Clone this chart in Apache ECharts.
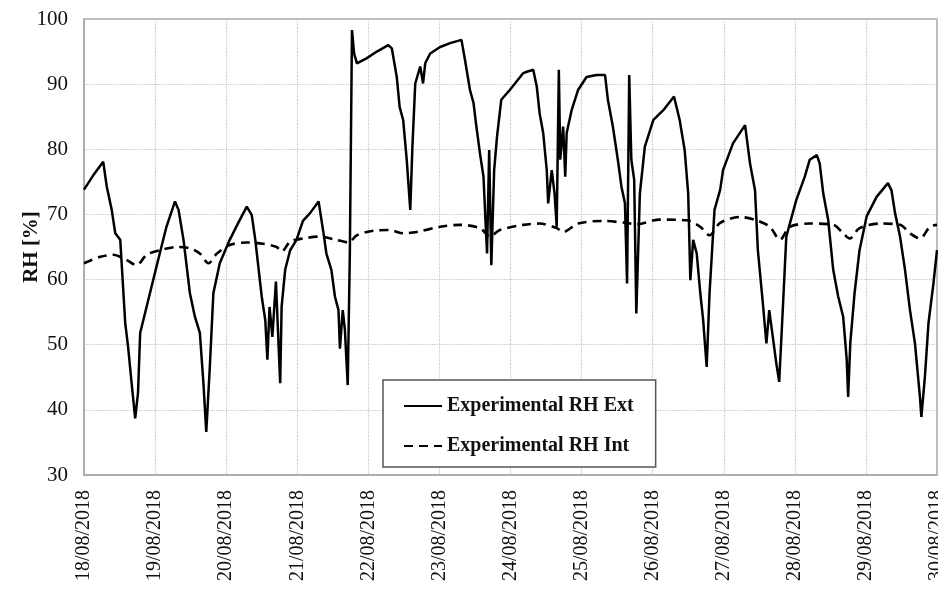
<!DOCTYPE html>
<html>
<head>
<meta charset="utf-8">
<script src="https://cdn.jsdelivr.net/npm/echarts@6/dist/echarts.min.js"></script>
<style>
html,body{margin:0;padding:0;background:#fff;}
#chart{width:938px;height:590px;}
</style>
</head>
<body>
<div id="chart"></div>
<script>
// Tick labels (x axis: one per day starting 18/08/2018)
const dayLabels = ["18/08/2018","19/08/2018","20/08/2018","21/08/2018","22/08/2018","23/08/2018",
  "24/08/2018","25/08/2018","26/08/2018","27/08/2018","28/08/2018","29/08/2018","30/08/2018"];
const seriesNames = ["Experimental RH Ext", "Experimental RH Int"];

// Exterior RH: time in days since 18/08/2018 00:00, value in %
const extTime = [0.00,0.13,0.27,0.32,0.39,0.44,0.51,0.58,0.62,0.67,0.72,0.76,0.79,0.88,1.02,1.16,1.28,1.33,1.40,1.49,
  1.56,1.63,1.68,1.72,1.77,1.82,1.91,2.05,2.17,2.29,2.36,2.41,2.50,2.55,2.58,2.61,2.65,2.70,2.76,2.78,
  2.83,2.90,2.99,3.08,3.18,3.30,3.37,3.41,3.48,3.53,3.58,3.60,3.64,3.67,3.71,3.74,3.77,3.80,3.84,3.98,
  4.12,4.28,4.33,4.40,4.44,4.49,4.54,4.59,4.62,4.66,4.73,4.77,4.80,4.87,5.01,5.15,5.31,5.36,5.43,5.48,
  5.52,5.57,5.62,5.65,5.67,5.70,5.73,5.77,5.81,5.87,5.99,6.18,6.23,6.32,6.37,6.41,6.46,6.51,6.53,6.58,
  6.62,6.65,6.68,6.70,6.74,6.77,6.79,6.86,6.95,7.07,7.21,7.33,7.37,7.44,7.51,7.56,7.61,7.64,7.67,7.70,
  7.74,7.77,7.82,7.89,8.01,8.15,8.30,8.38,8.45,8.50,8.53,8.57,8.62,8.67,8.71,8.76,8.80,8.87,8.95,8.99,
  9.13,9.30,9.37,9.44,9.48,9.55,9.60,9.64,9.69,9.74,9.78,9.83,9.88,10.02,10.14,10.21,10.31,10.35,10.40,10.47,
  10.54,10.61,10.68,10.73,10.75,10.78,10.84,10.91,11.01,11.15,11.31,11.36,11.41,11.48,11.55,11.62,11.69,11.76,11.78,11.83,
  11.88,11.95,12.00];
const extRH = [73.8,76.0,78.1,74.3,70.7,67.1,66.1,53.3,49.7,44.1,38.7,42.6,51.8,55.8,62.0,68.1,72.0,70.7,66.1,57.9,
  54.3,51.8,44.1,36.6,46.6,57.9,62.5,66.1,68.7,71.2,69.9,66.1,57.4,53.8,47.7,55.8,51.2,59.7,44.1,55.8,
  61.5,64.5,66.1,69.0,70.2,72.0,67.1,64.0,61.5,57.4,55.3,49.4,55.3,52.3,43.8,64.1,98.3,94.7,93.2,94.0,
  95.0,96.0,95.5,91.1,86.5,84.5,78.4,70.7,80.4,90.1,92.7,90.1,93.2,94.7,95.7,96.3,96.8,93.7,89.1,87.1,
  83.5,79.4,75.8,68.6,64.0,79.9,62.2,76.8,81.9,87.6,89.1,91.7,91.9,92.2,89.6,85.5,82.5,76.8,71.7,76.8,
  73.2,68.1,92.2,78.4,83.5,75.8,82.5,86.0,89.1,91.1,91.4,91.4,87.6,83.5,78.4,74.3,71.7,59.4,91.4,78.4,
  75.3,54.8,73.2,80.4,84.5,86.0,88.1,84.5,79.9,73.2,59.9,66.1,64.0,57.9,53.8,46.6,57.9,70.7,73.8,76.8,
  80.9,83.7,77.8,73.7,64.5,56.4,50.2,55.3,51.2,47.1,44.3,55.3,66.6,72.2,75.8,78.4,79.1,77.8,73.2,69.1,
  61.5,57.4,54.3,47.7,42.0,50.2,57.9,64.5,69.7,72.7,74.8,73.7,70.2,66.6,61.5,55.3,50.2,42.0,38.9,45.1,
  53.3,59.4,64.5];

// Interior RH
const intTime = [0.00,0.23,0.41,0.60,0.74,0.88,1.07,1.30,1.49,1.63,1.75,1.87,2.05,2.29,2.52,2.71,2.78,2.90,3.08,3.32,
  3.55,3.72,3.84,4.07,4.30,4.49,4.68,5.01,5.29,5.57,5.71,5.85,6.18,6.41,6.65,6.74,6.95,7.30,7.63,7.77,
  8.10,8.48,8.67,8.80,8.95,9.23,9.46,9.65,9.79,9.93,10.21,10.54,10.68,10.77,10.91,11.20,11.48,11.62,11.76,11.90,12.00];
const intRH = [62.5,63.5,63.8,63.0,62.2,63.8,64.5,65.0,64.8,64.0,62.5,64.0,65.3,65.7,65.5,65.0,64.3,65.8,66.3,66.6,
  66.1,65.7,66.8,67.5,67.6,67.1,67.3,68.1,68.4,67.9,66.6,67.6,68.4,68.6,67.9,67.3,68.6,69.0,68.7,68.5,
  69.2,69.1,68.1,66.8,68.7,69.6,69.1,68.1,66.1,68.1,68.6,68.4,67.1,66.3,67.9,68.6,68.4,67.1,66.3,68.1,68.4];

const zip = (t, v) => t.map((x, i) => [x, v[i]]);
const serif = '"Liberation Serif", "DejaVu Serif", serif';

const chart = echarts.init(document.getElementById('chart'), null, {renderer: 'canvas'});
chart.setOption({
  animation: false,
  backgroundColor: '#fff',
  grid: {left: 84, right: 1, top: 19, bottom: 115, containLabel: false, outerBoundsMode: 'none',
    show: true, borderColor: '#a8a8a8', borderWidth: 1.5, backgroundColor: '#fff'},
  legend: {
    orient: 'vertical',
    left: 383, top: 380,
    padding: [16, 22, 11, 20],
    itemGap: 20,
    itemWidth: 38, itemHeight: 14,
    backgroundColor: '#fff',
    borderColor: '#555', borderWidth: 1.5,
    itemStyle: {opacity: 0},
    textStyle: {fontFamily: serif, fontWeight: 'bold', fontSize: 20, color: '#111'},
    data: seriesNames
  },
  xAxis: {
    type: 'value', min: 0, max: 12, interval: 1,
    axisLine: {show: true, lineStyle: {color: '#a8a8a8', width: 1.5}},
    axisTick: {show: false},
    splitLine: {show: true, lineStyle: {type: 'dotted', color: '#c4c4c4', width: 1.2}},
    axisLabel: {
      rotate: 90, margin: 15, color: '#111', hideOverlap: false,
      fontFamily: serif, fontSize: 20,
      formatter: v => dayLabels[Math.round(v)]
    }
  },
  yAxis: {
    type: 'value', min: 30, max: 100, interval: 10,
    name: 'RH [%]', nameLocation: 'middle', nameGap: 42, nameRotate: 90, nameMoveOverlap: false,
    nameTextStyle: {fontFamily: serif, fontWeight: 'bold', fontSize: 21, color: '#111'},
    axisLine: {show: true, lineStyle: {color: '#a8a8a8', width: 1.5}},
    axisTick: {show: false},
    splitLine: {show: true, lineStyle: {type: 'dotted', color: '#c4c4c4', width: 1.2}},
    axisLabel: {margin: 16, color: '#111', fontFamily: serif, fontSize: 21}
  },
  series: [
    {
      name: seriesNames[0], type: 'line', data: zip(extTime, extRH),
      symbol: 'none', lineStyle: {color: '#000', width: 2.5, type: 'solid'},
      itemStyle: {color: '#000'}, z: 3
    },
    {
      name: seriesNames[1], type: 'line', data: zip(intTime, intRH),
      symbol: 'none', smooth: 0.3,
      lineStyle: {color: '#000', width: 2.6, type: [9, 6]},
      itemStyle: {color: '#000'}, z: 2
    }
  ]
});
</script>
</body>
</html>
